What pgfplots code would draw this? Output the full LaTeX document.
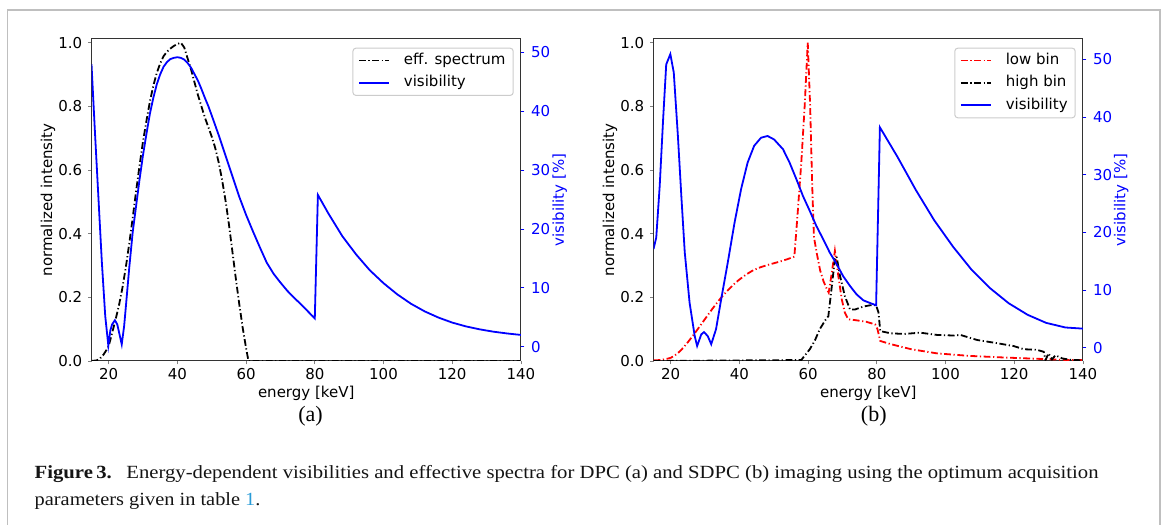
\documentclass[border=0pt]{standalone}
\usepackage{pgfplots}
\pgfplotsset{compat=1.18}
\usepackage{pgfplotstable}
\usepackage{graphicx}
\usepackage{fontspec}
\setmainfont{DejaVu Sans}
\newfontfamily\capfont{Liberation Serif}
\definecolor{linkblue}{RGB}{40,155,215}
\tikzset{mpldashdot/.style={dash pattern=on 3.4pt off 1.3pt on 0.6pt off 1.3pt}}

\pgfplotstableread{
E v
15 0
16.5 0.002
17.5 0.008
18.5 0.02
19.5 0.037
20 0.047
21 0.088
22 0.13
23 0.175
24 0.23
25 0.295
26 0.37
27 0.45
28 0.535
29 0.615
30 0.69
31 0.755
32 0.815
33 0.865
34 0.905
35 0.935
36 0.958
37 0.972
38 0.982
39 0.99
40 0.996
41 1.0
42 0.985
43 0.95
44 0.915
45 0.875
46 0.835
47 0.8
48 0.765
49 0.735
50 0.705
51 0.67
52 0.625
53 0.57
54 0.505
55 0.43
56 0.345
57 0.26
58 0.18
59 0.105
60 0.04
60.7 0
70 0
140 0
}\specA

\pgfplotstableread{
E v
15 48.0
16 36.5
17 25.5
18 14.5
19 5.2
19.9 0.2
20.5 2.8
21 3.8
21.8 4.5
22.5 3.8
23 2.5
23.8 0.4
24.5 3.5
25 6.8
26 13.5
27 19.5
28 24.0
29 28.5
30 32.6
31 36.2
32 39.6
33 42.3
34 44.6
35 46.3
36 47.6
37 48.4
38 48.9
39 49.1
40 49.2
41 49.1
42 48.8
43 48.2
44 47.4
45 46.3
46 45.2
47 43.8
48 42.3
49 40.9
50 39.3
52 36.0
54 32.5
56 29.0
58 25.5
60 22.4
62 19.6
64 16.9
66 14.3
68 12.4
70 10.9
72 9.5
74 8.3
76 7.2
78 6.0
80 4.8
80.9 25.8
84 22.6
88 18.8
92 15.7
96 13.0
100 10.8
104 8.9
108 7.3
112 6.0
116 4.95
120 4.1
124 3.45
128 2.95
132 2.55
136 2.25
140 2.0
}\visA

\pgfplotstableread{
E v
15 0.002
17 0.003
19 0.007
20 0.010
21 0.016
22 0.024
23 0.034
24 0.046
25 0.059
26 0.073
27 0.087
28 0.102
29 0.117
30 0.132
31 0.147
32 0.162
33 0.176
34 0.190
35 0.203
36 0.215
37 0.226
38 0.237
39 0.247
40 0.256
42 0.272
44 0.285
46 0.294
48 0.301
50 0.307
52 0.313
54 0.320
56 0.328
57 0.47
58 0.62
59 0.80
59.9 1.0
60.6 0.80
61.2 0.55
61.7 0.39
62.5 0.34
63.5 0.285
64.5 0.25
65.5 0.225
66 0.215
66.8 0.27
67.8 0.346
68.8 0.267
69.8 0.194
70.7 0.152
71.7 0.131
74 0.128
77 0.123
79.5 0.115
80.2 0.10
81 0.063
84 0.053
90 0.037
97.5 0.024
107 0.016
117 0.011
126.5 0.007
136 0.003
140 0.003
}\lowB

\pgfplotstableread{
E v
15 0
58 0.003
60.5 0.037
62 0.065
63.4 0.10
65 0.128
65.9 0.141
66.8 0.225
67.8 0.32
68.3 0.328
69.3 0.267
70.7 0.204
72.2 0.162
73.7 0.162
76.1 0.171
78 0.175
79.8 0.175
80.5 0.152
81 0.094
84 0.087
88 0.085
92.6 0.089
97.5 0.082
102.4 0.080
104.3 0.082
109.2 0.066
115 0.056
119.8 0.047
122.8 0.037
126.6 0.035
128.6 0.029
129.1 0.003
130 0.024
131 0.005
132 0.018
134 0.008
136.3 0.004
140 0.002
}\highB

\pgfplotstableread{
E v
15 17.1
15.8 19.1
16.8 28.0
17.8 39.6
18.7 49.1
19.9 50.9
20.9 47.7
22.1 36.7
23.1 26.3
24.1 16.5
25.5 7.8
27.0 2.0
27.7 0.3
28.9 2.3
29.7 2.7
30.8 2.0
31.8 0.6
33.2 3.2
34.7 8.4
36.6 14.7
38.6 21.7
40.5 27.5
42.4 32.1
44.3 35.0
46.3 36.4
48.2 36.7
50.1 36.1
52.7 34.4
54.6 32.1
56.6 29.2
58.5 26.3
60.5 23.7
62.4 21.1
64.4 18.8
66.3 16.5
68.3 14.5
70.2 12.4
72.2 10.7
74.1 9.25
76.1 8.2
78 7.75
79.8 7.35
80.9 38.2
86 33.1
91.4 27.3
96.7 22.1
102.2 17.5
107.6 13.5
113 10.3
118.4 7.7
123.9 5.7
129.3 4.3
134.9 3.5
140 3.3
}\visB

\pgfplotsset{
  mplbase/.style={
    scale only axis, width=214.7pt, height=161.15pt, anchor=south west,
    xmin=15, xmax=140, xtick={20,40,...,140},
    tick align=outside, major tick length=1.75pt,
    every tick/.append style={line width=0.4pt},
    tick label style={font=\fontsize{7.5}{9}\selectfont},
    label style={font=\fontsize{7.5}{9}\selectfont},
    /pgf/number format/assume math mode=true,
  },
  leftax/.style={mplbase,
    ymin=0, ymax=1.0126, ytick={0,0.2,0.4,0.6,0.8,1.0},
    yticklabel style={/pgf/number format/fixed, /pgf/number format/fixed zerofill, /pgf/number format/precision=1, xshift=0.65pt},
    xtick pos=left, ytick pos=left,
    axis line style={black!80, line width=0.5pt},
    xticklabel style={yshift=1.5pt},
    xlabel={energy [keV]}, ylabel={normalized intensity},
    xlabel style={at={(axis description cs:0.5,-0.101)}, anchor=center},
    ylabel style={at={(axis description cs:-0.1013,0.5)}, anchor=center},
  },
  rightax/.style={mplbase,
    axis x line=none, axis y line*=right,
    tick align=outside,
    ytick={0,10,20,30,40,50},
    y axis line style={black!80, line width=0.5pt},
    ytick style={blue},
    yticklabel style={blue, xshift=-0.2pt},
    ylabel={visibility [\%]},
    legend style={at={(1,1)}, anchor=north east, xshift=-3.6pt, yshift=-4.5pt,
      draw=black!20, rounded corners=1.5pt, line width=0.5pt, fill=white,
      font=\fontsize{7.5}{9}\selectfont,
      inner xsep=2.6pt, inner ysep=1.2pt, row sep=1.2pt, column sep=5.8pt,
      nodes={inner sep=1.2pt, text height=5.8pt, text depth=1.8pt}},
    legend cell align=left,
    legend image code/.code={\draw[#1] (0pt,0pt) -- (15pt,0pt);},
  },
}

\begin{document}
\begin{tikzpicture}
\path[use as bounding box] (0,0) rectangle (582.5pt,262pt);
\draw[black!25, line width=0.75pt] (3.65pt,-1pt) -- (3.65pt,257pt) -- (580pt,257pt) -- (580pt,-1pt);

% ---------- panel (a)
\begin{axis}[leftax, at={(45.75pt,81.5pt)}]
\addplot[black, line width=0.9pt, mpldashdot] table[x=E,y=v] {\specA};
\end{axis}
\begin{axis}[rightax, at={(45.75pt,81.5pt)}, ymin=-2.43, ymax=52.35,
  ylabel style={blue, at={(axis description cs:1.0905,0.5)}, anchor=center}]
\addlegendimage{black, line width=0.9pt, mpldashdot}
\addlegendentry{eff. spectrum}
\addplot[blue, line width=0.9pt] table[x=E,y=v] {\visA};
\addlegendentry{visibility}
\end{axis}

% ---------- panel (b)
\begin{axis}[leftax, at={(326.75pt,81.5pt)}]
\addplot[red, line width=0.9pt, mpldashdot] table[x=E,y=v] {\lowB};
\addplot[black, line width=0.9pt, mpldashdot] table[x=E,y=v] {\highB};
\end{axis}
\begin{axis}[rightax, at={(326.75pt,81.5pt)}, ymin=-2.31, ymax=53.57,
  ylabel style={blue, at={(axis description cs:1.089,0.5)}, anchor=center}]
\addlegendimage{red, line width=0.9pt, mpldashdot}
\addlegendentry{low bin}
\addlegendimage{black, line width=0.9pt, mpldashdot}
\addlegendentry{high bin}
\addplot[blue, line width=0.9pt] table[x=E,y=v] {\visB};
\addlegendentry{visibility}
\end{axis}

% ---------- panel labels
\node[font=\capfont\fontsize{11}{13}\selectfont, inner sep=0] at (155.3pt,53.65pt) {(a)};
\node[font=\capfont\fontsize{11}{13}\selectfont, inner sep=0] at (436.9pt,53.65pt) {(b)};

% ---------- caption
\node[anchor=base west, inner sep=0, text=black!92] at (17.15pt,22.5pt)
  {\resizebox{531.9pt}{\height}{\capfont\fontsize{9.3}{11}\selectfont\textbf{Figure\,3.}\hspace{0.7em}Energy-dependent visibilities and effective spectra for DPC (a) and SDPC (b) imaging using the optimum acquisition}};
\node[anchor=base west, inner sep=0, text=black!92] at (17.15pt,9.15pt)
  {\resizebox{112.9pt}{\height}{\capfont\fontsize{9.3}{11}\selectfont parameters given in table \textcolor{linkblue}{1}.}};
\end{tikzpicture}
\end{document}
